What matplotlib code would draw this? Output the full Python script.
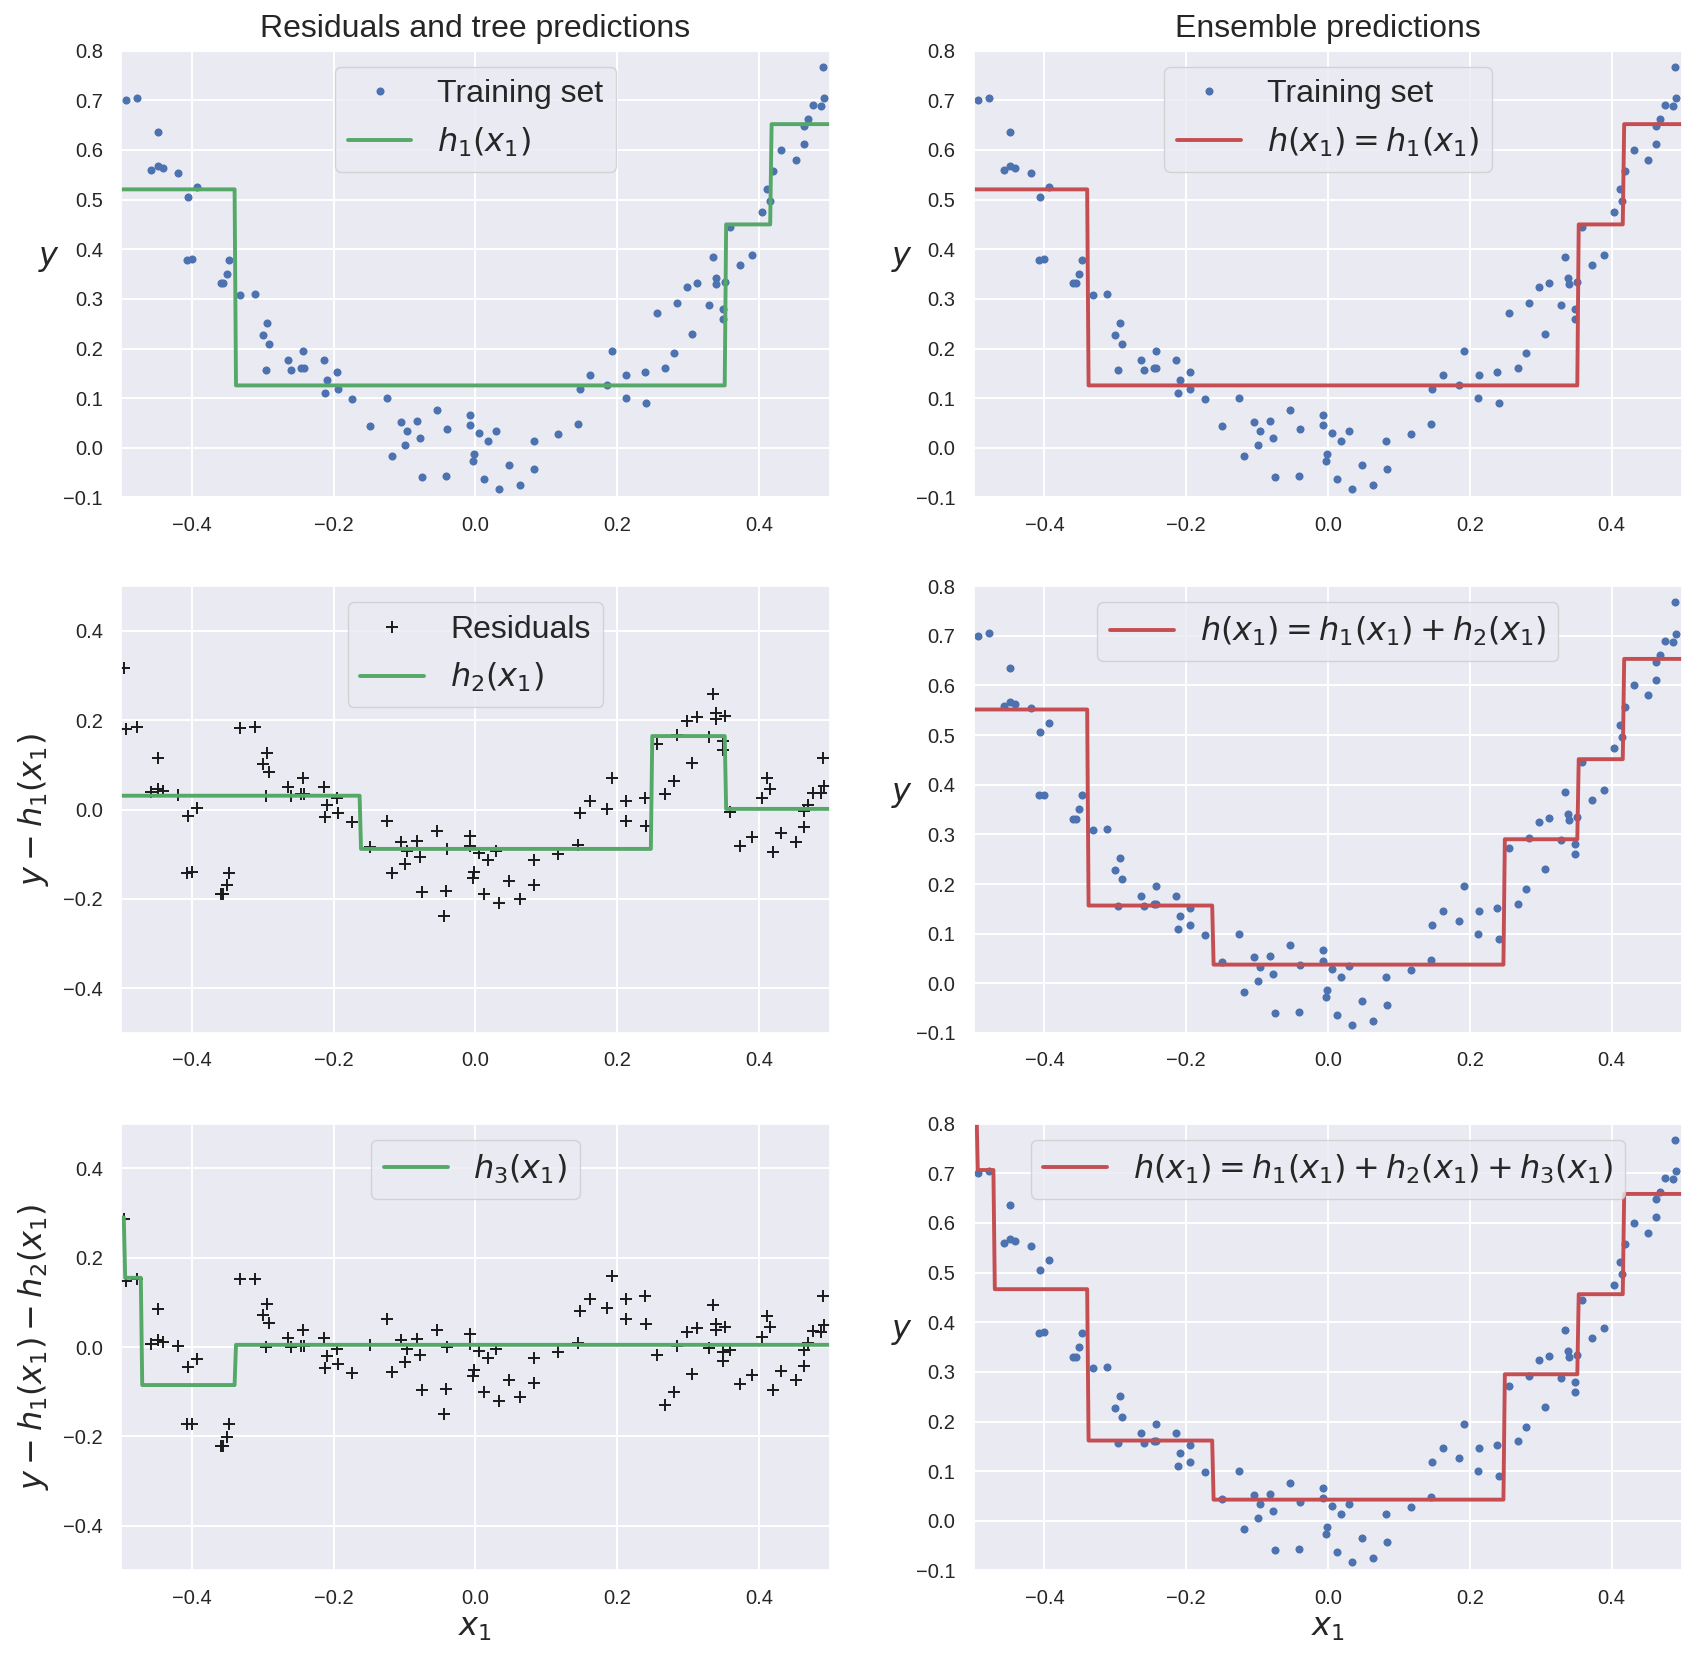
import numpy as np
import matplotlib
matplotlib.use("Agg")
import matplotlib.pyplot as plt
from matplotlib.ticker import MultipleLocator
import seaborn as sns

# training set
x_train = [-0.4935, -0.478, -0.448, -0.457, -0.448, -0.441, -0.419, -0.393, -0.406, -0.407,
           -0.400, -0.347, -0.351, -0.359, -0.356, -0.332, -0.311, -0.294, -0.300, -0.291,
           -0.296, -0.264, -0.260, -0.243, -0.246, -0.242, -0.214, -0.209, -0.212, -0.195,
           -0.194, -0.174, -0.149, -0.125, -0.118, -0.105, -0.096, -0.099, -0.082, -0.078,
           -0.075, -0.054, -0.040, -0.041, -0.007, -0.007, 0.005, -0.002, -0.003, 0.0125,
           0.018, 0.029, 0.034, 0.048, 0.063, 0.082, 0.083, 0.117, 0.145, 0.147,
           0.162, 0.185, 0.192, 0.213, 0.212, 0.239, 0.241, 0.2555, 0.268, 0.280,
           0.284, 0.306, 0.298, 0.312, 0.329, 0.335, 0.339, 0.340, 0.3517, 0.349,
           0.349, 0.359, 0.373, 0.390, 0.404, 0.415, 0.412, 0.4195, 0.431, 0.452,
           0.463, 0.463, 0.469, 0.476, 0.487, 0.4915, 0.490, -0.4953, -0.0436]
y_train = [0.700, 0.705, 0.636, 0.559, 0.567, 0.563, 0.554, 0.525, 0.506, 0.379,
           0.380, 0.379, 0.351, 0.331, 0.331, 0.308, 0.310, 0.252, 0.228, 0.210,
           0.156, 0.176, 0.156, 0.196, 0.160, 0.160, 0.176, 0.136, 0.110, 0.152,
           0.118, 0.098, 0.043, 0.100, -0.017, 0.053, 0.033, 0.005, 0.055, 0.019,
           -0.059, 0.077, 0.037, -0.057, 0.067, 0.045, 0.029, -0.013, -0.027, -0.063,
           0.013, 0.034, -0.083, -0.035, -0.075, 0.013, -0.043, 0.027, 0.047, 0.118,
           0.146, 0.126, 0.196, 0.146, 0.100, 0.152, 0.090, 0.272, 0.160, 0.190,
           0.292, 0.230, 0.324, 0.333, 0.288, 0.385, 0.342, 0.329, 0.335, 0.280,
           0.260, 0.445, 0.369, 0.389, 0.475, 0.497, 0.521, 0.557, 0.600, 0.580,
           0.612, 0.648, 0.662, 0.690, 0.688, 0.704, 0.768, 0.838, -0.112]

# regression trees: split thresholds and leaf values
h1_splits = [-0.3395, 0.3527, 0.4167]
h1_values = [0.5206, 0.1257, 0.450, 0.652]
h2_splits = [-0.1633, 0.248, 0.3527]
h2_values = [0.031, -0.088, 0.1645, 0.0015]
h3_splits = [-0.495, -0.4704, -0.3395]
h3_values = [0.29, 0.155, -0.085, 0.005]


def tree_predict(splits, values, x):
    return np.asarray(values)[np.searchsorted(splits, x, side='right')]


X = np.array(x_train)
Y = np.array(y_train)
r1 = Y - tree_predict(h1_splits, h1_values, X)
r2 = r1 - tree_predict(h2_splits, h2_values, X)

x1 = np.linspace(-0.5, 0.5, 500)
p1 = tree_predict(h1_splits, h1_values, x1)
p2 = tree_predict(h2_splits, h2_values, x1)
p3 = tree_predict(h3_splits, h3_values, x1)

sns.set_theme(style='darkgrid', color_codes=True)
plt.rcParams['font.family'] = ['Liberation Sans', 'DejaVu Sans']
plt.rcParams['grid.linewidth'] = 1.4
plt.rcParams['legend.edgecolor'] = '0.8'

big_font = {'family': ['Liberation Sans', 'DejaVu Sans'], 'size': 23}
lab = 23
lw = 2.8
dot = dict(color='b', marker='o', ms=5.8, mew=0, ls='none')
cross = dict(color='k', marker='+', ms=8.2, mew=1.4, ls='none')

fig = plt.figure(figsize=(16.96, 16.61), dpi=100)
w, h = 0.418, 0.269
lefts = [0.0713, 0.5740]
bottoms = [0.7005, 0.3781, 0.0545]
axs = [[fig.add_axes([l, b, w, h]) for l in lefts] for b in bottoms]

# left column: residuals and tree predictions
ax = axs[0][0]
ax.plot(X, Y, label='Training set', **dot)
ax.plot(x1, p1, 'g-', lw=lw, label='$h_1(x_1)$')
ax.set_ylim(-0.1, 0.8)
ax.set_ylabel('$y$', fontsize=lab, rotation=0, labelpad=10)
ax.set_title('Residuals and tree predictions', fontdict=big_font, pad=10)

ax = axs[1][0]
ax.plot(X, r1, label='Residuals', **cross)
ax.plot(x1, p2, 'g-', lw=lw, label='$h_2(x_1)$')
ax.set_ylim(-0.5, 0.5)
ax.set_ylabel('$y - h_1(x_1)$', fontsize=lab, labelpad=9)

ax = axs[2][0]
ax.plot(X, r2, **cross)
ax.plot(x1, p3, 'g-', lw=lw, label='$h_3(x_1)$')
ax.set_ylim(-0.5, 0.5)
ax.set_ylabel('$y - h_1(x_1) - h_2(x_1)$', fontsize=lab, labelpad=9)
ax.set_xlabel('$x_1$', fontsize=lab)

# right column: ensemble predictions
ax = axs[0][1]
ax.plot(X, Y, label='Training set', **dot)
ax.plot(x1, p1, 'r-', lw=lw, label='$h(x_1) = h_1(x_1)$')
ax.set_title('Ensemble predictions', fontdict=big_font, pad=10)

ax = axs[1][1]
ax.plot(X, Y, **dot)
ax.plot(x1, p1 + p2, 'r-', lw=lw, label='$h(x_1) = h_1(x_1) + h_2(x_1)$')

ax = axs[2][1]
ax.plot(X, Y, **dot)
ax.plot(x1, p1 + p2 + p3, 'r-', lw=lw, label='$h(x_1) = h_1(x_1) + h_2(x_1) + h_3(x_1)$')
ax.set_xlabel('$x_1$', fontsize=lab)

for row in range(3):
    axs[row][1].set_ylim(-0.1, 0.8)
    axs[row][1].set_ylabel('$y$', fontsize=lab, rotation=0, labelpad=10)

for row in axs:
    for ax in row:
        ax.set_xlim(-0.5, 0.5)
        ax.xaxis.set_major_locator(MultipleLocator(0.2))
        lo, hi = ax.get_ylim()
        ax.yaxis.set_major_locator(MultipleLocator(0.1 if hi - lo < 1 else 0.2))
        ax.tick_params(labelsize=14.5, pad=7)
        ax.legend(loc='upper center', prop=big_font)

fig.savefig('out.png', dpi=100)
